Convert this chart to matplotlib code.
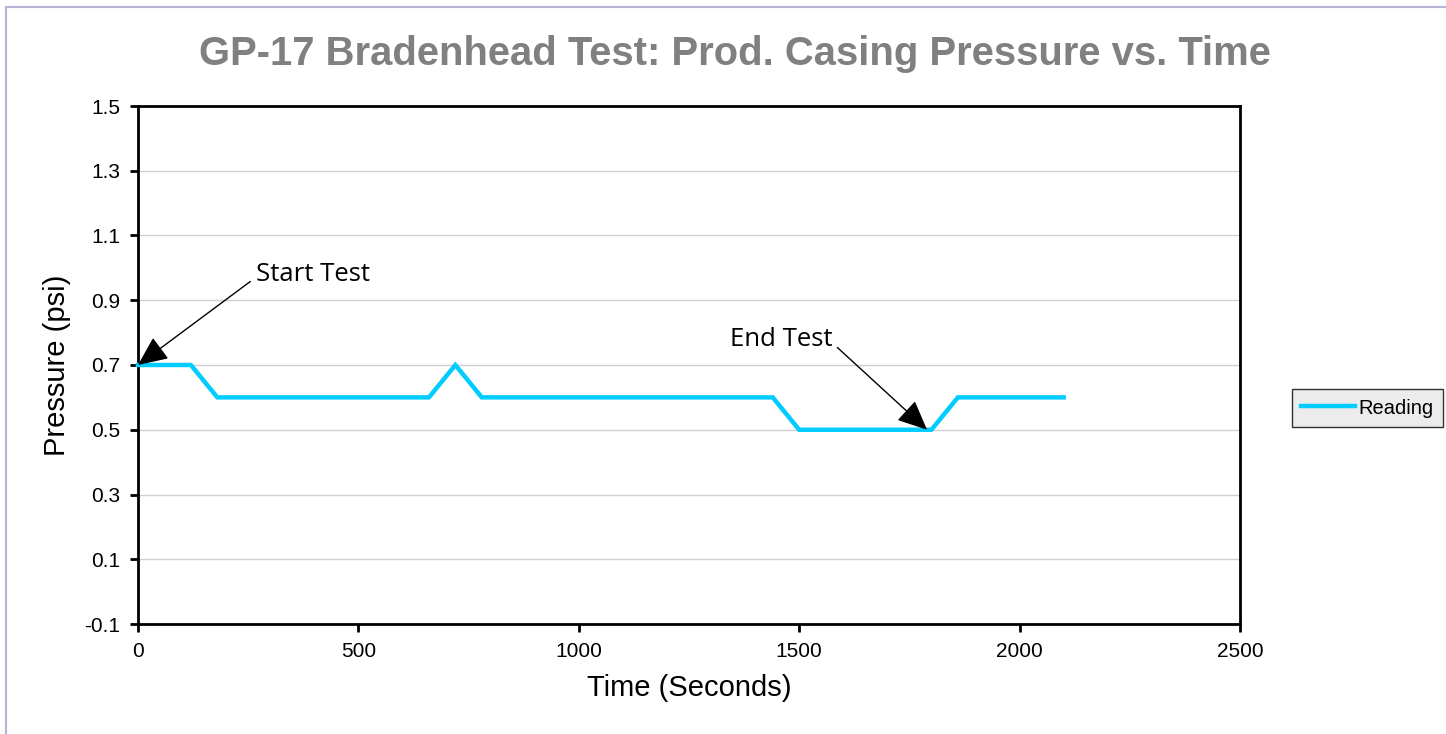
import matplotlib
matplotlib.use("Agg")
import matplotlib.pyplot as plt
from matplotlib.patches import Rectangle

time_s = [0, 60, 120, 180, 240, 300, 360, 420, 480, 540, 600, 660, 720, 780,
          840, 900, 960, 1020, 1080, 1140, 1200, 1260, 1320, 1380, 1440, 1500,
          1560, 1620, 1680, 1740, 1800, 1860, 1920, 1980, 2040, 2100]
pressure = [0.7, 0.7, 0.7, 0.6, 0.6, 0.6, 0.6, 0.6, 0.6, 0.6, 0.6, 0.6, 0.7, 0.6,
            0.6, 0.6, 0.6, 0.6, 0.6, 0.6, 0.6, 0.6, 0.6, 0.6, 0.6, 0.5,
            0.5, 0.5, 0.5, 0.5, 0.5, 0.6, 0.6, 0.6, 0.6, 0.6]
y_ticks = [-0.1, 0.1, 0.3, 0.5, 0.7, 0.9, 1.1, 1.3, 1.5]
x_ticks = [0, 500, 1000, 1500, 2000, 2500]
start_point = (0, 0.7)
end_point = (1790, 0.5)

W, H = 1446, 734
fig = plt.figure(figsize=(W / 100, H / 100), dpi=100)
fig.patch.set_facecolor("white")

# outer chart-area border
fig.add_artist(Rectangle((6 / W, -0.1), 1.2, (H - 7) / H + 0.1,
                         transform=fig.transFigure, fill=False,
                         edgecolor="#b4b4d4", linewidth=1.5))

ax = fig.add_axes([138 / W, 1 - 624 / H, (1240 - 138) / W, (624 - 106) / H])
ax.plot(time_s, pressure, color="#00CCFF", linewidth=3.2, label="Reading",
        solid_joinstyle="miter", clip_on=False, zorder=3)

ax.set_xlim(0, 2500)
ax.set_ylim(-0.1, 1.5)
ax.set_xticks(x_ticks)
ax.set_yticks(y_ticks)
ax.set_yticklabels([f"{v:.1f}" for v in y_ticks])
ax.grid(axis="y", color="#d0d0d0", linewidth=1)
ax.set_axisbelow(True)
for s in ax.spines.values():
    s.set_linewidth(2)
    s.set_color("black")
ax.tick_params(direction="out", length=6, width=2, labelsize=15,
               colors="black", pad=7)
for lbl in ax.get_xticklabels() + ax.get_yticklabels():
    lbl.set_fontfamily("Liberation Sans")

ax.set_xlabel("Time (Seconds)", fontsize=21, fontfamily="Liberation Sans", labelpad=9)
ax.set_ylabel("Pressure (psi)", fontsize=21, fontfamily="Liberation Sans", labelpad=9)

fig.text(0.5 * (199 + 1270) / W, 1 - 54 / H,
         "GP-17 Bradenhead Test: Prod. Casing Pressure vs. Time",
         ha="center", va="center", fontsize=28.8, fontweight="bold",
         color="#808080", fontfamily="Liberation Sans")

arrow = dict(arrowstyle="-|>,head_length=1.0,head_width=0.45", color="black",
             linewidth=1, shrinkA=0, shrinkB=0)
ax.annotate("Start Test", xy=start_point, xycoords="data",
            xytext=(256 / W, 1 - 274 / H), textcoords="figure fraction",
            fontsize=18.5, fontfamily="Open Sans", ha="left", va="center",
            arrowprops=dict(arrow, relpos=(-0.05, 0.2)))
ax.annotate("End Test", xy=end_point, xycoords="data",
            xytext=(781 / W, 1 - 340 / H), textcoords="figure fraction",
            fontsize=18.5, fontfamily="Open Sans", ha="center", va="center",
            arrowprops=dict(arrow, relpos=(1.05, 0.2)))

leg = fig.legend(loc="center left", bbox_to_anchor=(1292 / W, 1 - 408 / H),
                 prop={"family": "Liberation Sans", "size": 14.5},
                 frameon=True, fancybox=False, handlelength=2.7,
                 borderpad=0.45, handletextpad=0.15, borderaxespad=0)
leg.get_frame().set_facecolor("#e8e8e8")
leg.get_frame().set_edgecolor("black")
leg.get_frame().set_linewidth(1)

fig.savefig("out.png", dpi=100)
